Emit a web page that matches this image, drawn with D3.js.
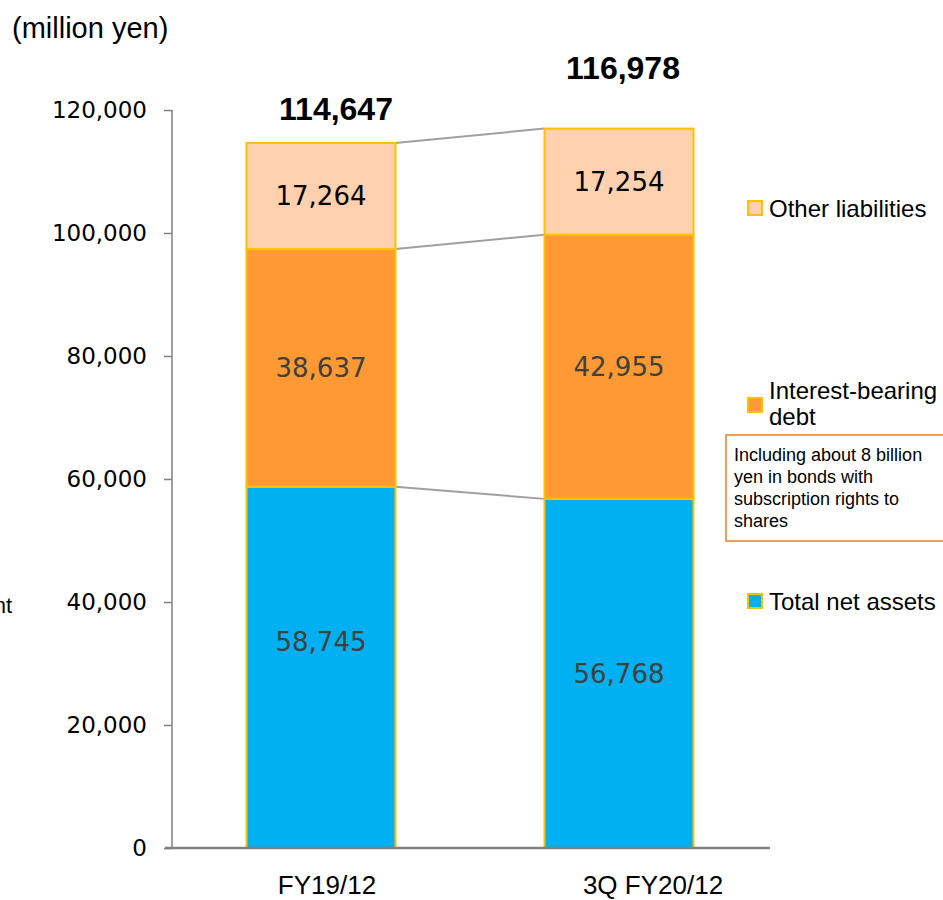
<!DOCTYPE html>
<html>
<head>
<meta charset="utf-8">
<script src="https://cdn.jsdelivr.net/npm/d3@7/dist/d3.min.js"></script>
<style>
  body { margin: 0; background: #fff; }
  svg { display: block; }
</style>
</head>
<body>
<svg id="chart" width="943" height="900"></svg>
<script>
// data
const categories = ['FY19/12', '3Q FY20/12'];
const seriesNames = ['Total net assets', 'Interest-bearing debt', 'Other liabilities'];
const netAssets = [58745, 56768];
const interestDebt = [38637, 42955];
const otherLiab = [17264, 17254];
const totals = [114647, 116978];
const yTicks = [0, 20000, 40000, 60000, 80000, 100000, 120000];
const noteLines = ['Including about 8 billion', 'yen in bonds with', 'subscription rights to', 'shares'];

const colors = ['#00B0F0', '#FF9933', '#FFD1AE'];
const borderCol = '#FFC000';
const arial = 'Liberation Sans, Arial, sans-serif';
const verdana = 'DejaVu Sans, Verdana, sans-serif';

const svg = d3.select('#chart');

const y = d3.scaleLinear().domain([0, 120000]).range([848, 110]);
const x = d3.scaleBand().domain(categories).range([172, 768]).paddingInner(0.5).paddingOuter(0.25);

// stack the three series
const rows = categories.map((c, i) => ({
  cat: c,
  'Total net assets': netAssets[i],
  'Interest-bearing debt': interestDebt[i],
  'Other liabilities': otherLiab[i]
}));
const stacked = d3.stack().keys(seriesNames)(rows);

// y axis
const yAxis = d3.axisLeft(y).tickValues(yTicks).tickSize(8).tickPadding(17)
  .tickFormat(d3.format(','));
const gy = svg.append('g').attr('transform', 'translate(172,0)').call(yAxis);
gy.select('.domain').attr('stroke', '#808080').attr('stroke-width', 1.5).attr('d', 'M0,110V848');
gy.selectAll('.tick line').attr('stroke', '#808080').attr('stroke-width', 1.5);
gy.selectAll('.tick text')
  .attr('font-family', verdana)
  .attr('font-size', 23).attr('fill', '#000');

// connector lines between bars
const b1 = x(categories[0]) + x.bandwidth();
const b2 = x(categories[1]);
const levels = [
  [netAssets[0], netAssets[1]],
  [netAssets[0] + interestDebt[0], netAssets[1] + interestDebt[1]],
  [netAssets[0] + interestDebt[0] + otherLiab[0], netAssets[1] + interestDebt[1] + otherLiab[1]]
];
svg.append('g').selectAll('line').data(levels).join('line')
  .attr('x1', b1).attr('x2', b2)
  .attr('y1', d => y(d[0])).attr('y2', d => y(d[1]))
  .attr('stroke', '#A0A0A0').attr('stroke-width', 2);

// bars
const layers = svg.append('g').selectAll('g').data(stacked).join('g')
  .attr('fill', (d, i) => colors[i]);
layers.selectAll('rect').data(d => d).join('rect')
  .attr('x', d => x(d.data.cat))
  .attr('y', d => y(d[1]))
  .attr('width', x.bandwidth())
  .attr('height', d => y(d[0]) - y(d[1]))
  .attr('stroke', borderCol).attr('stroke-width', 2);

// segment value labels
const labelShift = [[-26, 0], [0, 0], [0, 0]];
stacked.forEach((layer, li) => {
  svg.append('g').selectAll('text').data(layer).join('text')
    .attr('x', d => x(d.data.cat) + x.bandwidth() / 2)
    .attr('y', (d, i) => (y(d[0]) + y(d[1])) / 2 + labelShift[li][i])
    .attr('dy', '0.36em')
    .attr('text-anchor', 'middle')
    .attr('font-family', verdana)
    .attr('font-size', 26)
    .attr('fill', li === 2 ? '#000' : '#404040')
    .text(d => d3.format(',')(d[1] - d[0]));
});

// totals above bars
const totalLift = [23, 50];
const totalDx = [15, 4];
svg.append('g').selectAll('text').data(totals).join('text')
  .attr('x', (d, i) => x(categories[i]) + x.bandwidth() / 2 + totalDx[i])
  .attr('y', (d, i) => y(levels[2][i]) - totalLift[i])
  .attr('text-anchor', 'middle')
  .attr('font-family', arial)
  .attr('font-weight', 'bold')
  .attr('font-size', 32)
  .text(d => d3.format(',')(d));

// x axis line
svg.append('line').attr('x1', 165).attr('x2', 770).attr('y1', 848).attr('y2', 848)
  .attr('stroke', '#808080').attr('stroke-width', 2.5);

// category labels
const catDx = [6, 34];
svg.append('g').selectAll('text').data(categories).join('text')
  .attr('x', (d, i) => x(d) + x.bandwidth() / 2 + catDx[i])
  .attr('y', 894)
  .attr('text-anchor', 'middle')
  .attr('font-family', arial)
  .attr('font-size', 26)
  .text(d => d);

// unit label
svg.append('text').attr('x', 12).attr('y', 38)
  .attr('font-family', arial)
  .attr('font-size', 29).text('(million yen)');

// text remnant clipped at the left edge, as in the reference
svg.append('text').attr('x', 12).attr('y', 613).attr('text-anchor', 'end')
  .attr('font-family', arial)
  .attr('font-size', 22).text('nt');

// legend
const legend = [
  { c: 2, sq: 208, lines: ['Other liabilities'], ty: 217 },
  { c: 1, sq: 405, lines: ['Interest-bearing', 'debt'], ty: 399 },
  { c: 0, sq: 601, lines: ['Total net assets'], ty: 610 }
];
const lg = svg.append('g');
legend.forEach(l => {
  lg.append('rect').attr('x', 748).attr('y', l.sq - 7).attr('width', 14).attr('height', 14)
    .attr('fill', colors[l.c]).attr('stroke', borderCol).attr('stroke-width', 2);
  lg.append('text').attr('x', 769).attr('y', l.ty)
    .attr('font-family', arial).attr('font-size', 24)
    .selectAll('tspan').data(l.lines).join('tspan')
    .attr('x', 769).attr('dy', (d, i) => i ? 26 : 0).text(d => d);
});

// note box
svg.append('rect').attr('x', 726).attr('y', 435).attr('width', 230).attr('height', 106)
  .attr('fill', '#fff').attr('stroke', '#ED7D31').attr('stroke-width', 1.5);
svg.append('text').attr('font-family', arial).attr('font-size', 18)
  .selectAll('tspan').data(noteLines).join('tspan')
  .attr('x', 734).attr('y', (d, i) => 461 + i * 22).text(d => d);
</script>
</body>
</html>
